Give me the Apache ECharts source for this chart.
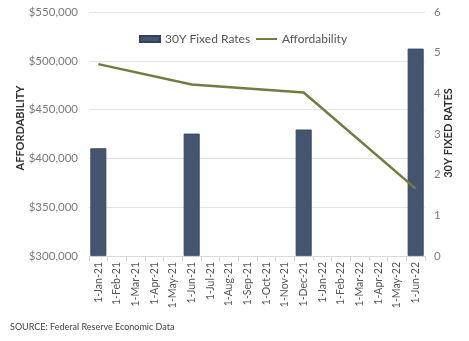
<!DOCTYPE html>
<html>
<head>
<meta charset="utf-8">
<script src="https://cdn.jsdelivr.net/npm/echarts@6/dist/echarts.min.js"></script>
<style>
  html, body { margin: 0; padding: 0; background: #fff; }
  #chart { width: 469px; height: 341px; }
</style>
</head>
<body>
<div id="chart"></div>
<script>
// Monthly categories
const months = [
  '1-Jan-21', '1-Feb-21', '1-Mar-21', '1-Apr-21', '1-May-21', '1-Jun-21',
  '1-Jul-21', '1-Aug-21', '1-Sep-21', '1-Oct-21', '1-Nov-21', '1-Dec-21',
  '1-Jan-22', '1-Feb-22', '1-Mar-22', '1-Apr-22', '1-May-22', '1-Jun-22'
];
// 30-year fixed mortgage rate (%), sampled months only
const fixedRates = [
  2.65, null, null, null, null, 3.01,
  null, null, null, null, null, 3.11,
  null, null, null, null, null, 5.10
];
// Affordability (USD), sampled months only
const affordability = [
  496600, null, null, null, null, 475700,
  null, null, null, null, null, 467500,
  null, null, null, null, null, 369000
];

const FONT = 'Lato, "Open Sans", sans-serif';
const chart = echarts.init(document.getElementById('chart'), null, { renderer: 'canvas' });

chart.setOption({
  animation: false,
  backgroundColor: '#ffffff',
  textStyle: { fontFamily: FONT },
  grid: { left: 89, right: 44, top: 12, bottom: 85, containLabel: false },
  legend: [
    {
      left: 134, top: 28,
      itemWidth: 20, itemHeight: 6,
      textStyle: { fontFamily: FONT, fontSize: 12, color: '#555' },
      data: [{ name: '30Y Fixed Rates', icon: 'rect' }]
    },
    {
      left: 251, top: 28,
      itemWidth: 21, itemHeight: 2,
      textStyle: { fontFamily: FONT, fontSize: 12, color: '#555' },
      data: [{ name: 'Affordability', icon: 'rect' }]
    }
  ],
  xAxis: {
    type: 'category',
    data: months,
    boundaryGap: true,
    axisLine: { lineStyle: { color: '#d9d9d9' } },
    axisTick: { show: true, length: 5, lineStyle: { color: '#d9d9d9' } },
    axisLabel: {
      rotate: 90, interval: 0, margin: 6,
      fontFamily: FONT, fontSize: 10.5, color: '#555'
    }
  },
  yAxis: [
    {
      type: 'value',
      min: 300000, max: 550000, interval: 50000,
      axisLine: { show: false },
      axisTick: { show: false },
      splitLine: { lineStyle: { color: '#e3e3e3' } },
      axisLabel: {
        margin: 11, fontFamily: FONT, fontSize: 11.5, color: '#7a7a7a',
        formatter: v => '$' + v.toLocaleString('en-US')
      }
    },
    {
      type: 'value',
      min: 0, max: 6, interval: 1,
      axisLine: { show: false },
      axisTick: { show: false },
      splitLine: { show: false },
      axisLabel: { margin: 9, fontFamily: FONT, fontSize: 11.5, color: '#7a7a7a' }
    }
  ],
  series: [
    {
      name: '30Y Fixed Rates',
      type: 'bar',
      yAxisIndex: 1,
      data: fixedRates,
      barWidth: 16,
      itemStyle: { color: '#46556f', borderColor: '#34415a', borderWidth: 0.8 }
    },
    {
      name: 'Affordability',
      type: 'line',
      yAxisIndex: 0,
      data: affordability,
      connectNulls: true,
      showSymbol: false,
      symbol: 'none',
      lineStyle: { color: '#6f7d3e', width: 2.5 },
      itemStyle: { color: '#6f7d3e' }
    }
  ],
  graphic: [
    {
      type: 'text', x: 20, y: 128, rotation: Math.PI / 2,
      style: {
        text: 'AFFORDABILITY', fontFamily: FONT, fontSize: 11, fontWeight: 'bold',
        fill: '#2f2f2f', align: 'center', verticalAlign: 'middle'
      }
    },
    {
      type: 'text', x: 448, y: 133, rotation: Math.PI / 2,
      style: {
        text: '30Y FIXED RATES', fontFamily: FONT, fontSize: 11, fontWeight: 'bold',
        fill: '#2f2f2f', align: 'center', verticalAlign: 'middle'
      }
    },
    {
      type: 'text', left: 10, top: 323,
      style: {
        text: 'SOURCE: Federal Reserve Economic Data', fontFamily: FONT, fontSize: 9,
        fill: '#444'
      }
    }
  ]
});
</script>
</body>
</html>
